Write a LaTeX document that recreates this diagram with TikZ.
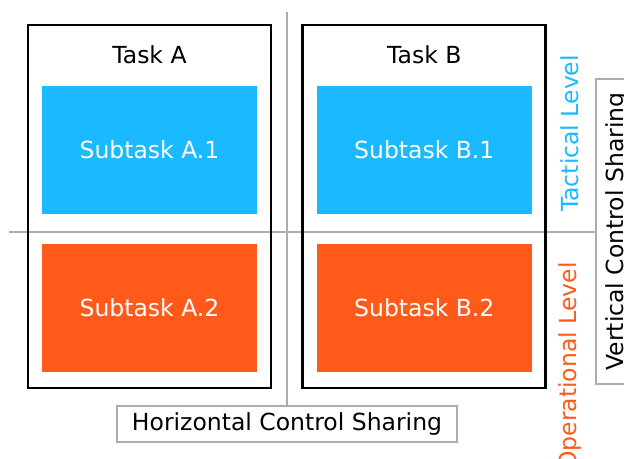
\documentclass[tikz,border=0pt]{standalone}
\usepackage{fontspec}
\setmainfont{DejaVu Sans}
\usetikzlibrary{positioning,backgrounds}

\definecolor{tacblue}{HTML}{1BB9FF}
\definecolor{opred}{HTML}{FF5A1A}
\definecolor{sharegray}{HTML}{ADADAD}

\begin{document}
\begin{tikzpicture}
    [x=1pt, y=1pt, font=\fontsize{23.5}{28}\selectfont,
    % STYLES
    % The task style draws the black frame round each task
    task/.style={rectangle, draw=black, line width=2.8pt, minimum width=243pt, minimum height=363pt, inner sep=0pt},
    % The subtask style draws the coloured blocks inside a task
    subtask/.style={rectangle, text=white, minimum width=215pt, minimum height=128pt, inner sep=0pt},
    % The level style writes the level names along the right side
    level/.style={rotate=90, inner sep=0pt},
    % The share style is used for the two control sharing boxes
    share/.style={rectangle, draw=sharegray, line width=2.8pt, fill=white, minimum height=36pt, inner sep=0pt},
    divider/.style={draw=sharegray, line width=2.8pt}]

    \useasboundingbox (0,0) rectangle (624,458);

    % Control sharing boxes
    \node [share, minimum width=340pt] (hshare) at (287,34) {Horizontal Control Sharing};
    \node [share, minimum width=305pt, minimum height=42pt, rotate=90] (vshare) at (617,226.5) {Vertical Control Sharing};

    % Dividing lines, behind everything else
    \coordinate (hstart) at (9,226);
    \coordinate (vstart) at (287,446);
    \begin{scope}[on background layer]
    \path[divider]
    (hstart) -- (hstart -| vshare.north)
    (vstart) -- (vstart |- hshare.north);
    \end{scope}

    % Draw tasks
    \node [task] (taska) at (149.5,251.5) {};
    \node [task, right=29pt of taska] (taskb) {};
    \node at ([yshift=-31pt]taska.north) (labela) {Task A};
    \node at ([yshift=-31pt]taskb.north) (labelb) {Task B};

    % Draw subtasks
    \node [subtask, fill=tacblue, below=62pt of taska.north] (suba1) {Subtask A.1};
    \node [subtask, fill=opred, below=30pt of suba1] (suba2) {Subtask A.2};
    \node [subtask, fill=tacblue, below=62pt of taskb.north] (subb1) {Subtask B.1};
    \node [subtask, fill=opred, below=30pt of subb1] (subb2) {Subtask B.2};

    % Level names
    \node [level, text=tacblue] (tactical) at (570,324.5) {Tactical Level};
    \node [level, text=opred] (operational) at (570,92) {Operational Level};
\end{tikzpicture}
\end{document}
